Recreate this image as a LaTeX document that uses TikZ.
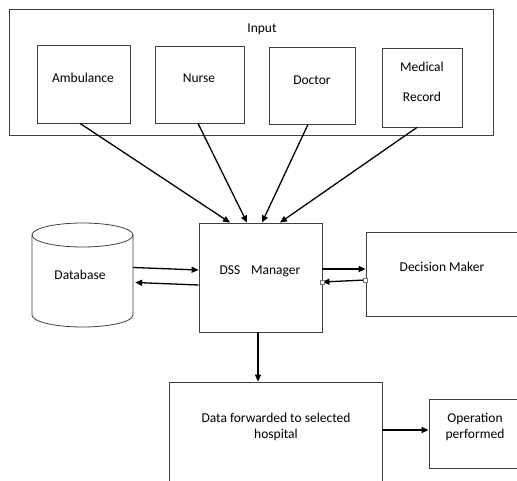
\documentclass[tikz,border=0pt]{standalone}
\usepackage{fontspec}
\setmainfont{Carlito}
\usetikzlibrary{arrows.meta}
\begin{document}
\begin{tikzpicture}[x=1pt,y=-1pt,
  box/.style={draw=black!75, line width=0.8pt, inner sep=0pt, rectangle},
  txt/.style={font=\fontsize{13.5}{16}\selectfont, inner sep=0pt, align=center},
  arr/.style={line width=1.3pt, -{Triangle[length=7pt,width=6pt]}},
  handle/.style={draw=black!55, fill=white, line width=0.5pt, minimum size=4pt, inner sep=0pt, rectangle}]
\useasboundingbox (0,0) rectangle (517,481);
\clip (0,0) rectangle (517,481);
\fill[white] (0,0) rectangle (517,481);

% Input group
\node[box, minimum width=484pt, minimum height=126pt] (input) at (251,72) {};
\node[txt] (inputlbl) at (262,29) {Input};
\node[box, minimum width=93pt, minimum height=78pt] (amb) at (83.5,84) {};
\node[txt] at (83,78) {Ambulance};
\node[box, minimum width=89pt, minimum height=77pt] (nurse) at (199.5,84.5) {};
\node[txt] at (199,78) {Nurse};
\node[box, minimum width=86pt, minimum height=77pt] (doc) at (312,85.5) {};
\node[txt] at (312,80) {Doctor};
\node[box, minimum width=80pt, minimum height=79pt] (med) at (422,87.5) {};
\node[txt] at (422,67) {Medical};
\node[txt] at (422,97) {Record};

% DSS manager
\node[box, minimum width=123pt, minimum height=109pt] (dss) at (260.5,277.5) {};
\node[txt] at (260,271) {DSS\hspace{0.8em}Manager};

% Database cylinder
\node[inner sep=0pt, minimum width=101pt, minimum height=104pt] (db) at (82.5,275) {};
\draw[draw=black!75, line width=0.8pt, fill=white]
  (32,235) -- (32,315) arc[start angle=180, end angle=360, x radius=50.5, y radius=-12]
  -- (133,235) arc[start angle=0, end angle=180, x radius=50.5, y radius=-12] -- cycle;
\draw[draw=black!75, line width=0.8pt]
  (32,235) arc[start angle=180, end angle=360, x radius=50.5, y radius=-12];
\node[txt] at (80,275) {Database};

% Decision maker
\node[box, minimum width=170pt, minimum height=84pt] (dm) at (451,274) {};
\node[txt] at (442,267) {Decision Maker};

% Hospital and operation
\node[box, minimum width=213pt, minimum height=130pt] (hosp) at (275.5,447) {};
\node[txt] at (276,427) {Data forwarded to selected\\hospital};
\node[box, minimum width=89pt, minimum height=69pt] (op) at (473.5,433.5) {};
\node[txt] at (475,427) {Operation\\performed};

% Input arrows
\draw[arr] (amb.south -| 80,0) -- (dss.north -| 230,0);
\draw[arr] (nurse.south -| 198,0) -- (dss.north -| 247,0);
\draw[arr] (doc.south -| 308,0) -- (dss.north -| 262,0);
\draw[arr] (med.south -| 417,0) -- (dss.north -| 280,0);

% Database exchange
\draw[arr] ([yshift=7.5pt]db.east) -- ([yshift=7.5pt]dss.west);
\draw[arr] ([yshift=-7.5pt]dss.west) -- ([yshift=-7.5pt, xshift=2pt]db.east);

% Decision maker exchange
\draw[arr] ([yshift=8.5pt]dss.east) -- ([yshift=5pt]dm.west);
\draw[arr] ([yshift=-6pt]dm.west) -- ([yshift=-4.5pt]dss.east);
\node[handle] (h1) at ([yshift=-4.5pt]dss.east) {};
\node[handle] (h2) at ([yshift=-6pt]dm.west) {};

% Downstream
\draw[arr] (dss.south -| 258,0) -- (hosp.north -| 258,0);
\draw[arr] (hosp.east |- 0,430) -- (op.west |- 0,430);
\end{tikzpicture}
\end{document}
